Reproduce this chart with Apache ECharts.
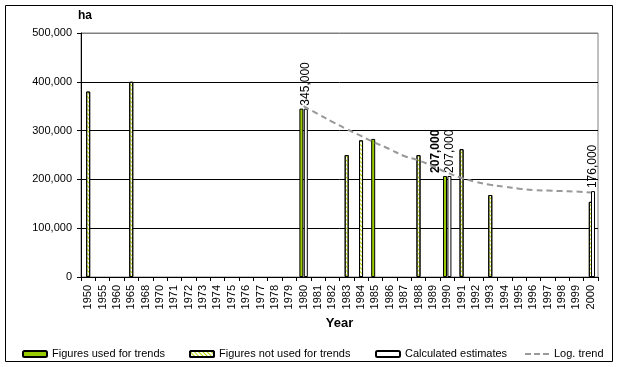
<!DOCTYPE html>
<html>
<head>
<meta charset="utf-8">
<script src="https://cdn.jsdelivr.net/npm/echarts@6/dist/echarts.min.js"></script>
<style>
html,body{margin:0;padding:0;background:#fff;}
#chart{width:618px;height:367px;}
</style>
</head>
<body>
<div id="chart"></div>
<script>
// Category axis (years)
const categories = ['1950','1955','1960','1965','1968','1970','1971','1972','1973','1974','1975','1976','1977','1978','1979','1980','1981','1982','1983','1984','1985','1986','1987','1988','1989','1990','1991','1992','1993','1994','1995','1996','1997','1998','1999','2000'];

// Figures used for trends
const usedYears  = ['1980','1985','1990'];
const usedValues = [345000, 283000, 207000];
const usedLabelYears = ['1990'];

// Figures not used for trends
const notUsedYears  = ['1950','1965','1983','1984','1988','1991','1993','2000'];
const notUsedValues = [380000, 400000, 250000, 280000, 250000, 262000, 168000, 154000];

// Calculated estimates
const calcYears  = ['1980','1990','2000'];
const calcValues = [345000, 207000, 176000];

// Log. trend
const trendYears  = ['1980','1981','1982','1983','1984','1985','1986','1987','1988','1989','1990','1991','1992','1993','1994','1995','1996','1997','1998','1999','2000'];
const trendValues = [350000, 334000, 318000, 303000, 289000, 275000, 262000, 248000, 239000, 227000, 214000, 203000, 195000, 189000, 185000, 181000, 178000, 177000, 176000, 175000, 173000];

const yTicks = [0, 100000, 200000, 300000, 400000, 500000];

const FONT = 'Arial, "Liberation Sans", sans-serif';
function fmt(v){ return String(v).replace(/\B(?=(\d{3})+(?!\d))/g, ','); }
function toSeries(years, values){
  return categories.map(c => { const i = years.indexOf(c); return i >= 0 ? values[i] : '-'; });
}

const labelBase = {
  show: true, position: 'top', rotate: 90, align: 'left', verticalAlign: 'middle',
  distance: 3, fontSize: 12, fontFamily: FONT, color: '#000',
  formatter: p => fmt(p.value)
};

const usedData = categories.map(c => {
  const i = usedYears.indexOf(c);
  if (i < 0) return '-';
  if (usedLabelYears.indexOf(c) >= 0) {
    return { value: usedValues[i], label: Object.assign({}, labelBase, { fontWeight: 'bold', offset: [0, -9] }) };
  }
  return usedValues[i];
});

const chart = echarts.init(document.getElementById('chart'), null, { renderer: 'canvas' });
const legendCommon = { top: 342, itemWidth: 24, itemHeight: 6, textStyle: { fontSize: 11, fontFamily: FONT, color: '#000', lineHeight: 14 }, selectedMode: false };

chart.setOption({
  animation: false,
  backgroundColor: '#fff',
  textStyle: { fontFamily: FONT },
  graphic: [
    { type: 'rect', shape: { x: 5.5, y: 5.5, width: 607, height: 356 }, style: { fill: 'none', stroke: '#000', lineWidth: 1 }, silent: true, z: -1 },
    { type: 'text', left: 78, top: 10, style: { text: 'ha', font: 'bold 12px ' + FONT, fill: '#000' } }
  ],
  grid: { left: 81, top: 33, right: 20, bottom: 90, show: true, borderColor: '#808080', borderWidth: 1, containLabel: false },
  legend: [
    Object.assign({ left: 17, data: ['Figures used for trends'] }, legendCommon),
    Object.assign({ left: 184, data: ['Figures not used for trends'] }, legendCommon),
    Object.assign({ left: 370, data: ['Calculated estimates'] }, legendCommon),
    Object.assign({ left: 520, data: [{ name: 'Log. trend', icon: 'path://M0,0 L6,0 L6,2 L0,2 Z M9,0 L15,0 L15,2 L9,2 Z M18,0 L24,0 L24,2 L18,2 Z', itemStyle: { color: '#999' } }] }, legendCommon, { itemHeight: 2 })
  ],
  xAxis: {
    type: 'category', data: categories, boundaryGap: true,
    name: 'Year', nameLocation: 'middle', nameGap: 38,
    nameTextStyle: { fontSize: 13, fontWeight: 'bold', fontFamily: FONT, color: '#000' },
    axisLine: { lineStyle: { color: '#000', width: 1 } },
    axisTick: { show: true, interval: 0, length: 4, lineStyle: { color: '#000' } },
    axisLabel: { interval: 0, rotate: 90, margin: 8, fontSize: 11, fontFamily: FONT, color: '#000' },
    splitLine: { show: false }
  },
  yAxis: {
    type: 'value', min: yTicks[0], max: yTicks[yTicks.length - 1], interval: yTicks[1] - yTicks[0],
    axisLine: { show: true, lineStyle: { color: '#000', width: 1 } },
    axisTick: { show: true, length: 4, lineStyle: { color: '#000' } },
    axisLabel: { margin: 9, fontSize: 11, fontFamily: FONT, color: '#000', formatter: v => fmt(v) },
    splitLine: { show: true, lineStyle: { color: ['#000', '#000', '#000', '#000', '#000', '#808080'], width: 1 } }
  },
  series: [
    {
      name: 'Figures used for trends', type: 'bar', data: usedData,
      barWidth: 4, barGap: '-45%',
      itemStyle: { color: '#99cc00', borderColor: '#000', borderWidth: 1 }
    },
    {
      name: 'Figures not used for trends', type: 'bar', data: toSeries(notUsedYears, notUsedValues),
      barWidth: 4, barGap: '-45%',
      itemStyle: {
        color: '#ffffff', borderColor: '#000', borderWidth: 1,
        decal: { symbol: 'rect', color: '#b5d400', dashArrayX: [1, 0], dashArrayY: [1, 2], rotation: Math.PI / 4, symbolSize: 1 }
      }
    },
    {
      name: 'Calculated estimates', type: 'bar', data: toSeries(calcYears, calcValues),
      barWidth: 4, barGap: '-45%',
      itemStyle: { color: '#ffffff', borderColor: '#000', borderWidth: 1 },
      label: labelBase
    },
    {
      name: 'Log. trend', type: 'line', data: toSeries(trendYears, trendValues),
      smooth: true, symbol: 'none', z: 5,
      lineStyle: { color: '#999999', width: 2, type: [6, 4] },
      itemStyle: { color: '#999999' }
    }
  ]
});
</script>
</body>
</html>
